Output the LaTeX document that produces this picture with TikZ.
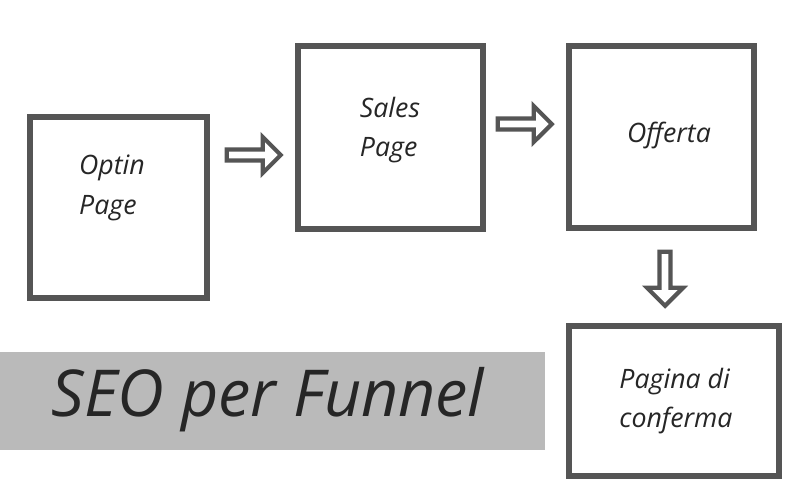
\documentclass[tikz,border=0pt]{standalone}
\usepackage{fontspec}
\setmainfont{Open Sans}
\usetikzlibrary{shapes.arrows}
\definecolor{boxgray}{HTML}{555555}
\tikzset{
  page/.style={draw=boxgray,line width=3.8pt,fill=white},
  label/.style={align=left,font=\fontsize{19}{28}\selectfont\itshape,text=black!85},
  fatarrow/.style={single arrow,draw=boxgray,line width=3pt,fill=white,minimum height=1.35cm,minimum width=0.9cm,single arrow head extend=0.12cm,inner sep=0pt}
}
\begin{document}
\begin{tikzpicture}[x=0.025cm,y=-0.025cm]
  \useasboundingbox (0,0) rectangle (800,500);
  \fill[white] (0,0) rectangle (800,500);
  % boxes
  \draw[page] (30,117) rectangle (207,298);
  \node[label] (optin) at (112,188) {Optin\\Page};
  \draw[page] (298,46) rectangle (483,229);
  \node[label] (sales) at (390,130) {Sales\\Page};
  \draw[page] (569,46) rectangle (754,228);
  \node[label] (offerta) at (669,135) {Offerta};
  \draw[page] (569,326) rectangle (779,476);
  \node[label] (conferma) at (676,401) {Pagina di\\conferma};
  % arrows
  \node[fatarrow] (a1) at (251,155) {};
  \node[fatarrow] (a2) at (522,124) {};
  \node[fatarrow,rotate=-90] (a3) at (665,276) {};
  % banner
  \fill[black!27] (0,352) rectangle (545,450);
  \node[font=\fontsize{46}{50}\selectfont\itshape,text=black!85] (seo) at (268,400) {SEO per Funnel};
\end{tikzpicture}
\end{document}
